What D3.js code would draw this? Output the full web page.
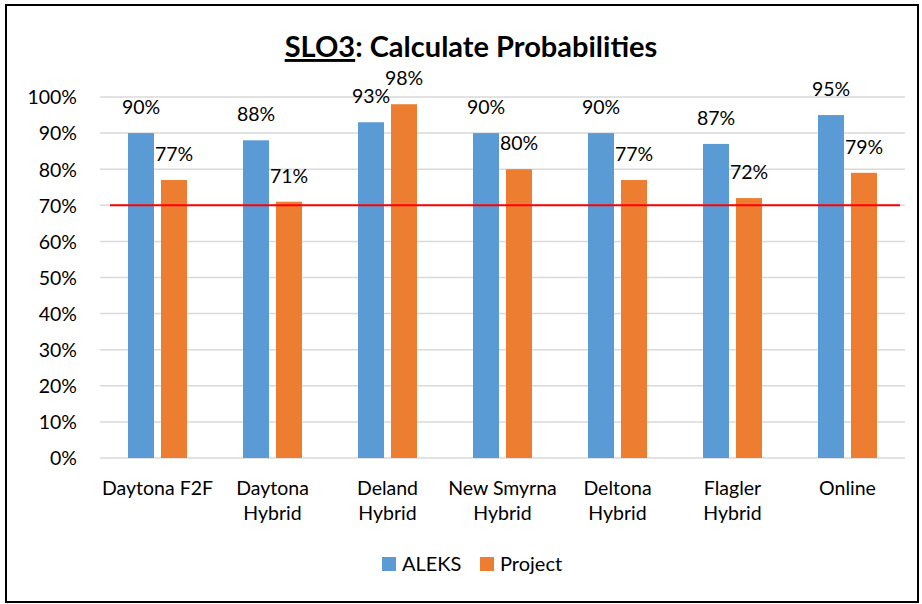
<!DOCTYPE html>
<html>
<head>
<meta charset="utf-8">
<script src="https://cdn.jsdelivr.net/npm/d3@7"></script>
<style>
  body { margin: 0; background: #fff; }
  svg text { font-family: Lato, "Open Sans", sans-serif; fill: #000; }
</style>
</head>
<body>
<div id="chart"></div>
<script>
'use strict';
var categories = [['Daytona F2F'], ['Daytona', 'Hybrid'], ['Deland', 'Hybrid'], ['New Smyrna', 'Hybrid'],
  ['Deltona', 'Hybrid'], ['Flagler', 'Hybrid'], ['Online']];
var seriesNames = ['ALEKS', 'Project'];
var aleks = [90, 88, 93, 90, 90, 87, 95];
var project = [77, 71, 98, 80, 77, 72, 79];
var yTicks = [0, 10, 20, 30, 40, 50, 60, 70, 80, 90, 100];
var target = 70;
var colors = ['#5b9bd5', '#ed7d31'];

var width = 922, height = 604;
var plotLeft = 100, plotRight = 905, plotTop = 97, plotBottom = 458;
var fontSize = '19.5px';

var svg = d3.select('#chart').append('svg')
  .attr('width', width).attr('height', height);

/* outer frame */
svg.append('rect')
  .attr('x', 6).attr('y', 5).attr('width', 912).attr('height', 597)
  .attr('fill', '#fff').attr('stroke', '#000').attr('stroke-width', 2);

/* title */
var title = svg.append('text')
  .attr('x', 471).attr('y', 57)
  .attr('text-anchor', 'middle')
  .style('font-size', '29px').style('font-weight', 'bold');
title.append('tspan').text('SLO3').style('text-decoration', 'underline');
title.append('tspan').text(': Calculate Probabilities');

var x = d3.scaleBand().domain(d3.range(categories.length)).range([plotLeft, plotRight]);
var y = d3.scaleLinear().domain([0, 100]).range([plotBottom, plotTop]);

/* gridlines */
svg.append('g').selectAll('line')
  .data(yTicks).enter().append('line')
  .attr('x1', plotLeft).attr('x2', plotRight)
  .attr('y1', function(d) { return y(d); })
  .attr('y2', function(d) { return y(d); })
  .attr('stroke', '#d9d9d9').attr('stroke-width', 1.5);

/* y axis labels */
var yAxis = svg.append('g')
  .attr('transform', 'translate(' + (plotLeft - 23) + ',0)')
  .call(d3.axisLeft(y).tickValues(yTicks).tickSize(0).tickFormat(function(d) { return d + '%'; }));
yAxis.select('.domain').remove();
yAxis.selectAll('text').attr('x', 0).attr('dy', '0.35em').style('font-size', fontSize).style('font-family', 'Lato, sans-serif');

/* bars */
var barW = 26, gap = 7;
var series = [aleks, project];
series.forEach(function(vals, s) {
  var off = s === 0 ? -(barW + gap / 2) : gap / 2;
  svg.append('g').selectAll('rect')
    .data(vals).enter().append('rect')
    .attr('x', function(d, i) { return x(i) + x.bandwidth() / 2 + off; })
    .attr('y', function(d) { return y(d); })
    .attr('width', barW)
    .attr('height', function(d) { return y(0) - y(d); })
    .attr('fill', colors[s]);
});

/* target line */
svg.append('line')
  .attr('x1', plotLeft + 10).attr('x2', plotRight - 5)
  .attr('y1', y(target)).attr('y2', y(target))
  .attr('stroke', '#ff0000').attr('stroke-width', 2);

/* data labels */
series.forEach(function(vals, s) {
  var off = s === 0 ? -(barW + gap / 2) : gap / 2;
  svg.append('g').selectAll('text')
    .data(vals).enter().append('text')
    .attr('x', function(d, i) { return x(i) + x.bandwidth() / 2 + off + barW / 2; })
    .attr('y', function(d) { return y(d) - 19; })
    .attr('text-anchor', 'middle')
    .style('font-size', fontSize)
    .text(function(d) { return d + '%'; });
});

/* category labels */
var cat = svg.append('g').selectAll('text')
  .data(categories).enter().append('text')
  .attr('x', function(d, i) { return x(i) + x.bandwidth() / 2; })
  .attr('y', 495)
  .attr('text-anchor', 'middle')
  .style('font-size', fontSize);
cat.selectAll('tspan')
  .data(function(d) { return d; }).enter().append('tspan')
  .attr('x', function() { return d3.select(this.parentNode).attr('x'); })
  .attr('dy', function(d, i) { return i === 0 ? 0 : 25; })
  .text(function(d) { return d; });

/* legend */
var legendX = [382, 480];
var legend = svg.append('g').selectAll('g')
  .data(seriesNames).enter().append('g')
  .attr('transform', function(d, i) { return 'translate(' + legendX[i] + ',557)'; });
legend.append('rect')
  .attr('width', 14).attr('height', 14)
  .attr('fill', function(d, i) { return colors[i]; });
legend.append('text')
  .attr('x', 20).attr('y', 14)
  .style('font-size', '20px')
  .text(function(d) { return d; });
</script>
</body>
</html>
